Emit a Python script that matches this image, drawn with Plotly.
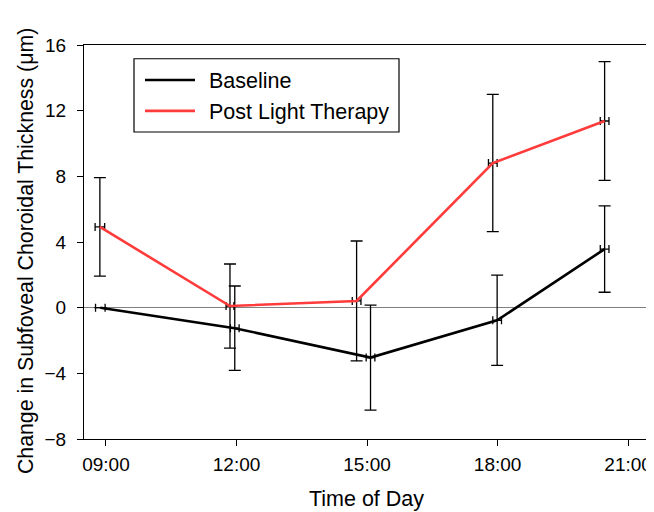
import plotly.graph_objects as go

# Time of day in decimal hours
baseline_time = [8.87, 11.96, 15.08, 17.99, 20.46]
baseline_change = [0.0, -1.25, -3.04, -0.77, 3.57]
baseline_err = [0.0, 2.57, 3.2, 2.75, 2.63]
baseline_time_err = [0.11, 0.1, 0.1, 0.1, 0.1]

post_time = [8.86, 11.85, 14.76, 17.89, 20.46]
post_change = [4.92, 0.10, 0.41, 8.81, 11.37]
post_err = [3.0, 2.56, 3.65, 4.18, 3.62]
post_time_err = [0.11, 0.09, 0.1, 0.1, 0.1]

series_names = ["Baseline", "Post Light Therapy"]
series_colors = ["#000000", "#ff3b3b"]

tick_hours = [9, 12, 15, 18, 21]
tick_labels = ["09:00", "12:00", "15:00", "18:00", "21:00"]
y_ticks = [-8, -4, 0, 4, 8, 12, 16]

FONT = "Liberation Sans, Arial, sans-serif"

# page body has an 8px margin: figure sized/margined to compensate
W, H = 646, 504
ML, MR, MT, MB = 76, 5, 36.5, 72.7
PW = W - ML - MR
PH = H - MT - MB


def px(X):  # window pixel -> paper x
    return (X - 8 - ML) / PW


def py(Y):  # window pixel -> paper y
    return 1 - (Y - 8 - MT) / PH


fig = go.Figure()
data = [
    (baseline_time, baseline_change, baseline_err, baseline_time_err),
    (post_time, post_change, post_err, post_time_err),
]
for (t, v, e, te), name, col in zip(data, series_names, series_colors):
    fig.add_trace(go.Scatter(
        x=t, y=v, mode="lines", name=name,
        line=dict(color=col, width=2.6),
        error_y=dict(type="data", array=e, visible=True, color="#000000", thickness=1.3, width=6),
        error_x=dict(type="data", array=te, visible=True, color="#000000", thickness=1.3, width=4),
    ))

# manual legend (box, line samples, labels)
shapes = [dict(type="rect", xref="paper", yref="paper",
               x0=px(134), x1=px(399), y0=py(131.7), y1=py(58.3),
               line=dict(color="#000000", width=1.2), fillcolor="white", layer="above")]
annotations = []
for i, (name, col) in enumerate(zip(series_names, series_colors)):
    ly = 79.5 + i * 31
    shapes.append(dict(type="line", xref="paper", yref="paper",
                       x0=px(145), x1=px(195), y0=py(ly), y1=py(ly),
                       line=dict(color=col, width=2.6), layer="above"))
    annotations.append(dict(text=name, xref="paper", yref="paper",
                            x=px(207), y=py(ly + 1), xanchor="left", yanchor="middle",
                            showarrow=False, font=dict(size=21.5, family=FONT, color="#000000")))

annotations.append(dict(
    text="Change in Subfoveal Choroidal Thickness (μm)",
    xref="paper", yref="paper", x=px(26), y=py(251),
    xanchor="center", yanchor="middle", textangle=-90, showarrow=False,
    font=dict(size=21.3, family=FONT, color="#000000"),
))

fig.update_layout(
    width=W, height=H,
    margin=dict(l=ML, r=MR, t=MT, b=MB),
    paper_bgcolor="white", plot_bgcolor="white",
    font=dict(family=FONT, size=19, color="#000000"),
    showlegend=False,
    xaxis=dict(
        range=[8.495, 21.48], tickvals=tick_hours, ticktext=tick_labels,
        showgrid=False, zeroline=False,
        showline=True, linecolor="#000000", linewidth=1.3, mirror=True,
        ticks="outside", ticklen=6, tickwidth=1.3, tickcolor="#000000",
        tickfont=dict(size=19), ticklabelstandoff=2,
        automargin=False,
        title=dict(text="Time of Day", font=dict(size=21.5), standoff=16),
    ),
    yaxis=dict(
        range=[-8, 16], tickvals=y_ticks,
        showgrid=False, zeroline=True, zerolinecolor="#808080", zerolinewidth=1,
        showline=True, linecolor="#000000", linewidth=1.3, mirror=True,
        ticks="outside", ticklen=6, tickwidth=1.3, tickcolor="#000000",
        tickfont=dict(size=19), ticklabelstandoff=7,
        automargin=False,
    ),
    shapes=shapes,
    annotations=annotations,
)

fig.write_html("out.html")
